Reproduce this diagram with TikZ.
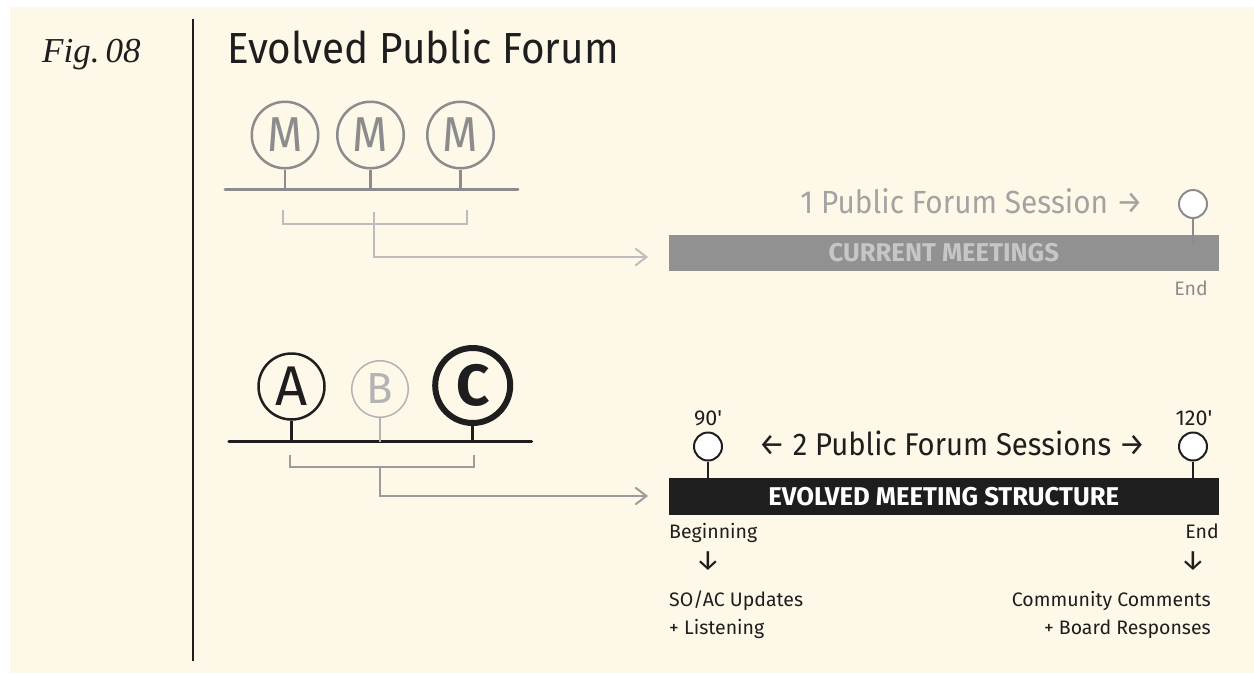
\documentclass[tikz,border=0pt]{standalone}
\usepackage{fontspec}
\setmainfont{Fira Sans}
\newfontfamily\narrowsans{Fira Sans}[FakeStretch=0.93]
\newfontfamily\figfont{Liberation Serif}
\usetikzlibrary{arrows.meta}

\definecolor{paper}{HTML}{FEF8E8}
\definecolor{ink}{HTML}{1E1E1E}
\definecolor{softink}{HTML}{8C8C8C}
\definecolor{paleink}{HTML}{BDBDBD}
\definecolor{barink}{HTML}{919191}
\definecolor{bartext}{HTML}{C6C6C6}
\definecolor{linkink}{HTML}{9C9C9C}
\definecolor{ghostink}{HTML}{B3B3B3}
\definecolor{greyink}{HTML}{A3A3A3}

\tikzset{
  token/.style={circle, draw, inner sep=0pt},
  pin/.style={circle, draw, fill=white, inner sep=0pt, minimum size=28pt, line width=2pt},
  caption/.style={inner sep=0pt, text=ink},
  bar/.style={rectangle, inner sep=0pt, minimum width=550.5pt, minimum height=36.5pt},
  link/.style={line width=2pt, -{Straight Barb[length=11pt,width=17pt,line width=2pt]}},
}

\begin{document}
\begin{tikzpicture}[x=1pt,y=-1pt]
  \useasboundingbox (0,0) rectangle (1254,673);
  \fill[white] (0,0) rectangle (1254,673);
  \fill[paper] (10,7) rectangle (1254,673);

  % heading
  \node[caption, anchor=base west, font=\figfont\fontsize{35}{35}\selectfont] (fig) at (42,62) {\itshape Fig.\kern6pt{\boldmath\oldstylenums{08}}};
  \node[caption, anchor=base west, font=\narrowsans\fontsize{43.5}{43.5}\selectfont] (title) at (227,63) {Evolved Public Forum};
  \coordinate (d1) at (193,19);
  \coordinate (d2) at (193,661);
  \draw[ink, line width=2pt] (d1) -- (d2);

  % current meetings
  \begin{scope}[every node/.style={token, draw=softink, text=softink, line width=2.5pt,
      minimum size=66.5pt, font=\narrowsans\fontsize{49}{49}\selectfont}]
    \node (m1) at (285,135) {M};
    \node (m2) at (370.5,135) {M};
    \node (m3) at (460.5,135) {M};
  \end{scope}
  \coordinate (t1) at (225,189);
  \coordinate (t2) at (518,189);
  \draw[softink, line width=3pt, line cap=round] (t1) -- (t2);
  \foreach \m in {m1,m2,m3}
    \draw[softink, line width=2.5pt] (\m) -- (\m |- t1);

  \coordinate (u1) at (283,210);
  \coordinate (u2) at (467,210);
  \coordinate (u3) at (374,212);
  \coordinate (u4) at (648,257);
  \draw[paleink, line width=2pt] (u1) |- (u2 |- 0,224) -- (u2);
  \draw[paleink, link] (u3) |- (u4);

  \node[bar, fill=barink, text=bartext, font=\bfseries\fontsize{25.7}{25.7}\selectfont] (cur) at (943.75,253) {CURRENT MEETINGS};
  \node[pin, draw=softink] (p0) at (1193,204) {};
  \coordinate (s0) at (1193,245);
  \draw[softink, line width=2.5pt] (p0) -- (s0);
  \node[caption, anchor=base east, text=greyink, font=\narrowsans\fontsize{32}{32}\selectfont] (one) at (1143,213) {1 Public Forum Session →};
  \node[caption, anchor=base, text=softink, font=\fontsize{19.5}{19.5}\selectfont] (end0) at (1191,295) {End};

  % evolved meetings
  \node[token, draw=ink, text=ink, line width=2.5pt, minimum size=66pt, font=\fontsize{56}{56}\selectfont] (a) at (291.5,386.5) {A};
  \node[token, draw=ghostink, text=ghostink, line width=1.5pt, minimum size=56.5pt, font=\fontsize{43.5}{43.5}\selectfont] (b) at (380,389) {B};
  \node[token, draw=ink, text=ink, line width=6pt, minimum size=75pt, font=\bfseries\fontsize{58}{58}\selectfont] (c) at (472.7,385.5) {C};
  \coordinate (l1) at (229,441.5);
  \coordinate (l2) at (531.5,441.5);
  \draw[ink, line width=3.5pt, line cap=round] (l1) -- (l2);
  \draw[ink, line width=2.5pt] (a) -- (a |- l1);
  \draw[ghostink, line width=2.5pt] (b) -- (b |- l1);
  \draw[ink, line width=2.5pt] (c) -- (c |- l1);

  \coordinate (v1) at (290,455);
  \coordinate (v2) at (474,455);
  \coordinate (v3) at (380,467);
  \coordinate (v4) at (648,496);
  \draw[linkink, line width=2pt] (v1) |- (v2 |- 0,467) -- (v2);
  \draw[linkink, link] (v3) |- (v4);

  \node[bar, fill=ink, text=white, font=\bfseries\fontsize{25.7}{25.7}\selectfont] (evo) at (943.75,496.5) {EVOLVED MEETING STRUCTURE};
  \node[pin, draw=ink] (p1) at (708,446.5) {};
  \node[pin, draw=ink] (p2) at (1193,446.5) {};
  \draw[ink, line width=2pt] (p1) -- (p1 |- evo.north);
  \draw[ink, line width=2pt] (p2) -- (p2 |- evo.north);

  \begin{scope}[every node/.style={caption, font=\fontsize{21.5}{21.5}\selectfont}]
    \node[anchor=base] (n90) at (708,425) {90\textquotesingle};
    \node[anchor=base] (n120) at (1194,425) {120\textquotesingle};
  \end{scope}
  \node[caption, anchor=base, font=\narrowsans\fontsize{31.5}{31.5}\selectfont] (two) at (952,455.7) {← 2 Public Forum Sessions →};

  \begin{scope}[every node/.style={caption, font=\fontsize{19.5}{19.5}\selectfont}]
    \node[anchor=base west] (beg) at (669,538.3) {Beginning};
    \node[anchor=base east] (end1) at (1219,538.3) {End};
    \node[anchor=base west] (soac1) at (669,606.7) {SO/AC Updates};
    \node[anchor=base west] (soac2) at (669,634) {+ Listening};
    \node[anchor=base east] (comm1) at (1211,606.7) {Community Comments};
    \node[anchor=base east] (comm2) at (1211,634) {+ Board Responses};
  \end{scope}
  \begin{scope}[every node/.style={caption, font=\fontsize{28}{28}\selectfont}]
    \node (dn1) at (708,561) {↓};
    \node (dn2) at (1193,561) {↓};
  \end{scope}

\end{tikzpicture}
\end{document}
